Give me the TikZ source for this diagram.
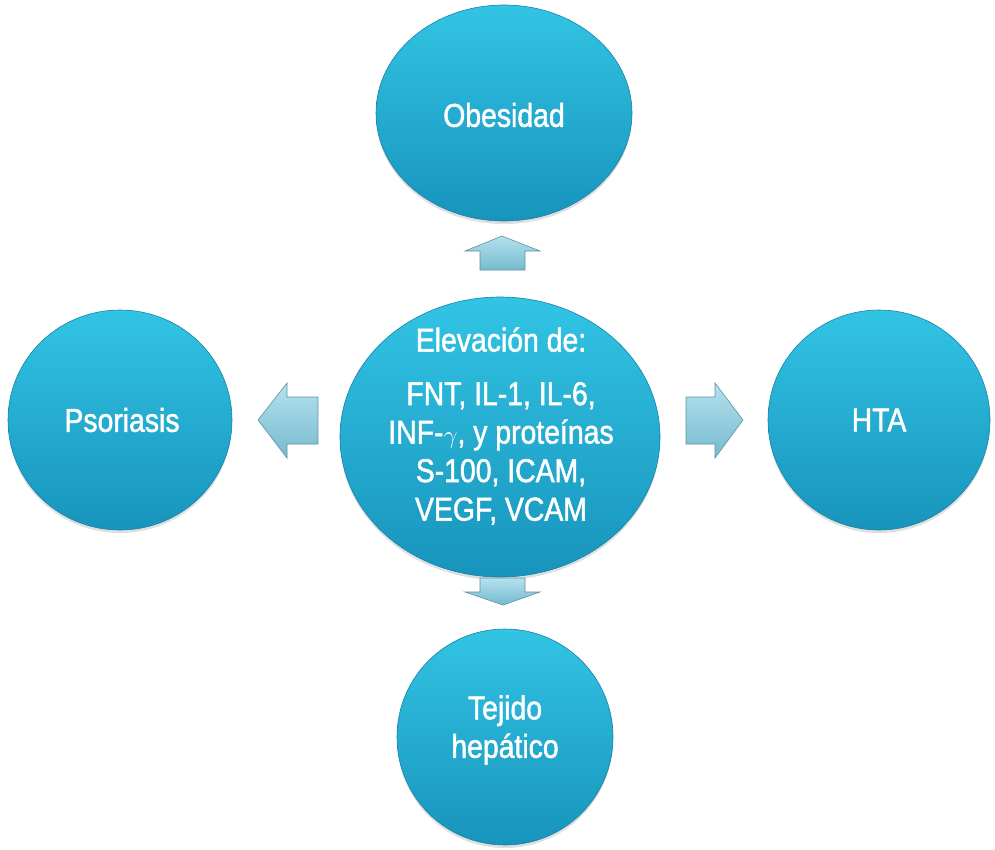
\documentclass[tikz,border=0pt]{standalone}
\usepackage{fontspec}
\setmainfont{Liberation Sans}[FakeStretch=0.86,FakeBold=1.4]
\usetikzlibrary{shapes.geometric,shadows}
\definecolor{ctop}{RGB}{50,196,228}
\definecolor{cbot}{RGB}{24,148,188}
\definecolor{cedge}{RGB}{22,130,165}
\definecolor{atop}{RGB}{180,225,238}
\definecolor{abot}{RGB}{118,186,206}
\definecolor{aedge}{RGB}{95,145,160}
\begin{document}
\begin{tikzpicture}[x=1pt,y=-1pt,
  bubble/.style={ellipse, top color=ctop, bottom color=cbot, draw=cedge,
    line width=0.6pt, inner sep=0pt,
    drop shadow={opacity=0.25,shadow xshift=0pt,shadow yshift=-3pt}},
  lbl/.style={text=white, align=center, inner sep=0pt,
    font=\fontsize{33}{38.5}\selectfont},
  blockarrow/.style={top color=atop, bottom color=abot, draw=aedge,
    line width=0.6pt, line join=miter}]
\useasboundingbox (0,0) rectangle (995,849);
% circles
\node[bubble, minimum width=256pt, minimum height=216pt] (ob) at (504,113) {};
\node[bubble, minimum width=320pt, minimum height=280pt] (ce) at (500,437) {};
\node[bubble, minimum width=224pt, minimum height=220pt] (ps) at (120,420) {};
\node[bubble, minimum width=222pt, minimum height=220pt] (ht) at (879,420) {};
\node[bubble, minimum width=216pt, minimum height=216pt] (te) at (505,737) {};
% labels
\node[lbl] (obt) at (504,115) {Obesidad};
\node[lbl] (cet) at (501,426) {Elevación de:\\[15pt]FNT, IL-1, IL-6,\\INF-$\gamma$, y proteínas\\S-100, ICAM,\\VEGF, VCAM};
\node[lbl] (pst) at (122,420) {Psoriasis};
\node[lbl] (htt) at (879,420) {HTA};
\node[lbl] (tet) at (505,730) {Tejido\\hepático};
% block arrows
\draw[blockarrow] (480,270) -- (480,251) -- (465,251) -- (502,236) -- (540,251) -- (525,251) -- (525,270) -- cycle;
\draw[blockarrow] (480,578) -- (525,578) -- (525,592) -- (540,592) -- (503,605) -- (465,592) -- (480,592) -- cycle;
\draw[blockarrow] (318,397) -- (287,397) -- (287,383) -- (258,420) -- (287,458) -- (287,444) -- (318,444) -- cycle;
\draw[blockarrow] (686,397) -- (715,397) -- (715,383) -- (743,420) -- (715,458) -- (715,444) -- (686,444) -- cycle;
\end{tikzpicture}
\end{document}
